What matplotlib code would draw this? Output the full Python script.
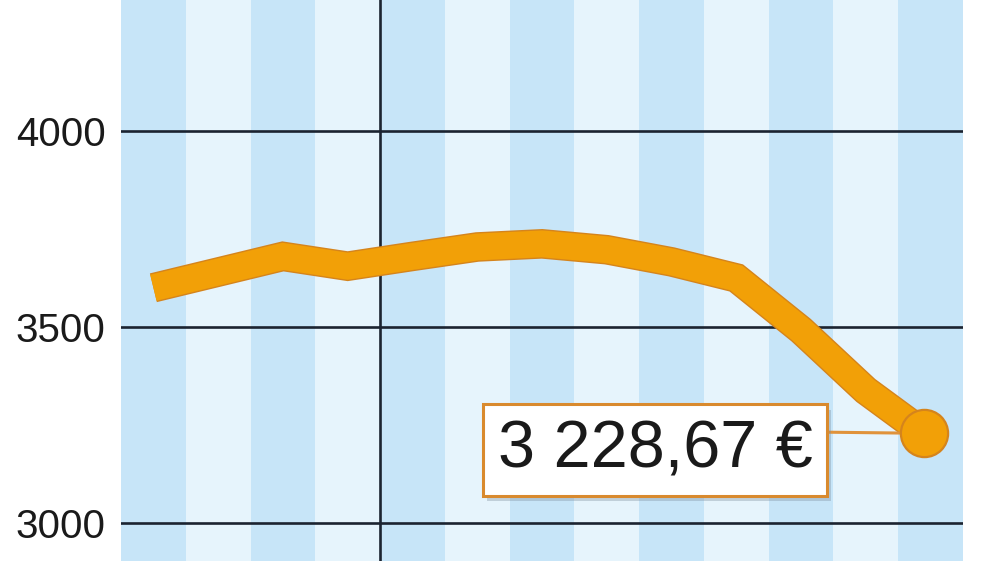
import matplotlib
matplotlib.use("Agg")
import matplotlib.pyplot as plt
import matplotlib.patheffects as pe

plt.rcParams['font.family'] = ['Liberation Sans', 'DejaVu Sans']

# ---- data ----
x_pos = [0.5, 1.5, 2.5, 3.5, 4.5, 5.5, 6.5, 7.5, 8.5, 9.5, 10.5, 11.5, 12.4]
values = [3600, 3640, 3680, 3655, 3680, 3704, 3712, 3697, 3666, 3625, 3492, 3338, 3228.67]
y_ticks = [3000, 3500, 4000]
y_tick_labels = ["3000", "3500", "4000"]
n_stripes = 13
divider_x = 4
last_label = "3 228,67 €"

# ---- style ----
dark_stripe = '#c7e5f8'
light_stripe = '#e6f4fc'
grid_col = '#1b2330'
orange = '#f2a007'
orange_edge = '#d5841c'

fig = plt.figure(figsize=(10, 5.61), dpi=100)
ax = fig.add_axes([0.121, 0.0, 0.842, 1.0])
ax.set_xlim(0, n_stripes)
ax.set_ylim(2903, 4334)

for i in range(n_stripes):
    ax.axvspan(i, i + 1, color=dark_stripe if i % 2 == 0 else light_stripe, lw=0, zorder=0)

for v in y_ticks:
    ax.axhline(v, color=grid_col, lw=1.9, zorder=1)
ax.axvline(divider_x, color=grid_col, lw=1.9, zorder=1)

ax.plot(x_pos, values, color=orange, lw=19.3, solid_capstyle='butt',
        solid_joinstyle='miter', zorder=3,
        path_effects=[pe.Stroke(linewidth=21.3, foreground=orange_edge), pe.Normal()])
ax.plot(x_pos[-1], values[-1], 'o', ms=34, mfc=orange, mec=orange_edge, mew=1.6, zorder=5)

ann = ax.annotate(last_label, xy=(x_pos[-1], values[-1]), xycoords='data',
                  xytext=(655, 111), textcoords='figure pixels',
                  ha='center', va='center', fontsize=48, color='#1a1a1a', zorder=4,
                  bbox=dict(boxstyle='square,pad=0.22', fc='white', ec='#d98a2e', lw=2.2),
                  arrowprops=dict(arrowstyle='-', color='#e0923a', lw=2.2,
                                  relpos=(1.0, 0.79), shrinkA=0, shrinkB=0))
ann.get_bbox_patch().set_path_effects([
    pe.SimplePatchShadow(offset=(3, -4), shadow_rgbFace='#7a8a9a', alpha=0.35),
    pe.Normal()])

ax.set_yticks(y_ticks)
ax.set_yticklabels(y_tick_labels, fontsize=29, color='#1a1a1a')
ax.tick_params(axis='y', length=0, pad=11)
ax.set_xticks([])
for s in ax.spines.values():
    s.set_visible(False)

fig.savefig('out.png', dpi=100)
